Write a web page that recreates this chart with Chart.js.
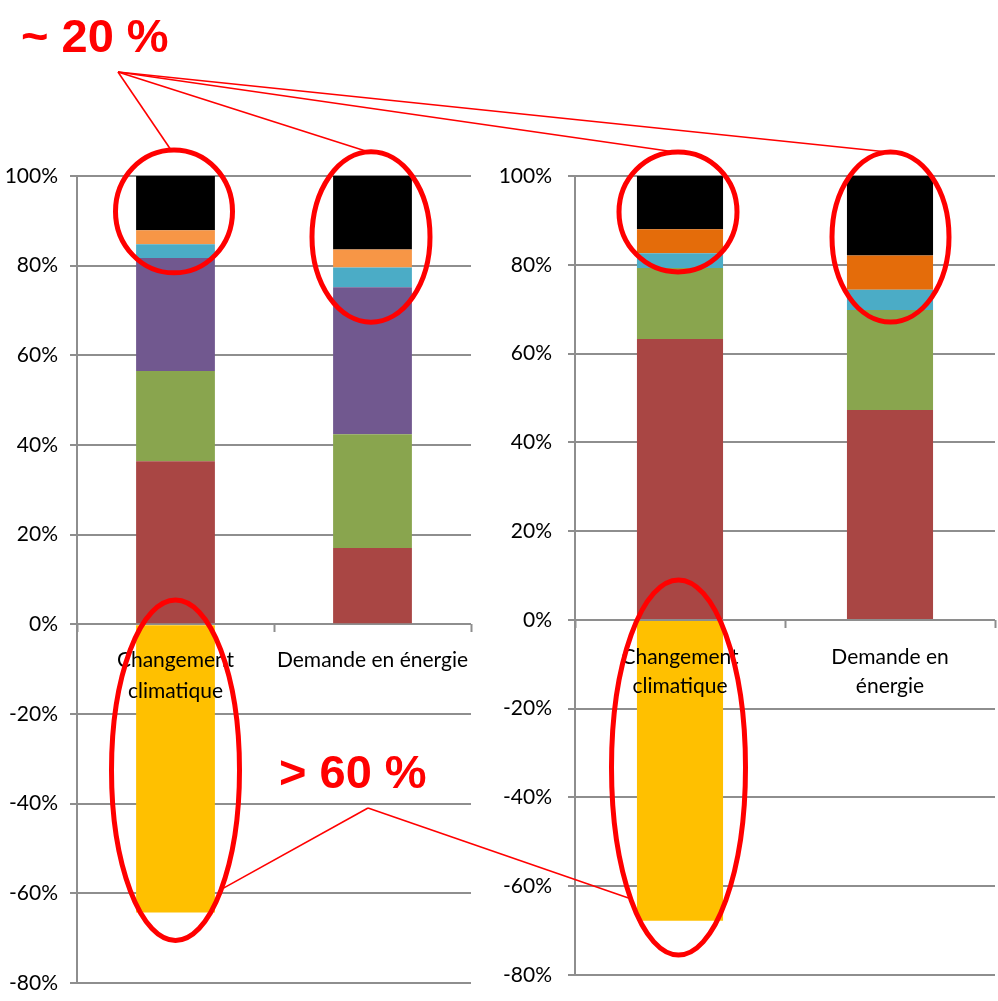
<!DOCTYPE html>
<html lang="fr">

<head>
  <meta charset="UTF-8" />
  <title>Changement climatique / Demande en énergie</title>
  <script src="https://cdn.jsdelivr.net/npm/chart.js"></script>
  <style>
    body {
      margin: 0;
      background: #ffffff;
    }

    .page {
      position: relative;
      width: 998px;
      height: 1001px;
      overflow: hidden;
    }

    #graphiqueGauche {
      position: absolute;
      left: 0;
      top: 0;
    }

    #graphiqueDroite {
      position: absolute;
      left: 490px;
      top: 0;
    }

    #annotations {
      position: absolute;
      left: 0;
      top: 0;
      pointer-events: none;
    }
  </style>
</head>

<body>
  <div class="page">
    <canvas id="graphiqueGauche" width="490" height="1001"></canvas>
    <canvas id="graphiqueDroite" width="508" height="1001"></canvas>
    <canvas id="annotations" width="998" height="1001"></canvas>
  </div>

  <script>
    // catégories et graduations
    const categoriesGauche = [['Changement', 'climatique'], 'Demande en énergie'];
    const categoriesDroite = [['Changement', 'climatique'], ['Demande en', 'énergie']];
    const graduationsY = [-80, -60, -40, -20, 0, 20, 40, 60, 80, 100];

    // graphique de gauche (valeurs en %)
    const rougeGauche = [36.4, 17.0];
    const vertGauche = [20.1, 25.4];
    const violetGauche = [25.2, 32.8];
    const bleuGauche = [3.1, 4.4];
    const orangeGauche = [3.1, 4.0];
    const noirGauche = [12.1, 16.4];
    const jauneGauche = [-64.3, 0];

    // graphique de droite (valeurs en %)
    const rougeDroite = [63.3, 47.3];
    const vertDroite = [16.0, 22.5];
    const bleuDroite = [3.3, 4.6];
    const orangeDroite = [5.4, 7.7];
    const noirDroite = [12.0, 17.9];
    const jauneDroite = [-67.8, 0];

    const couleurGrille = '#8e8e8e';
    const policeAxes = 'Lato, "Liberation Sans", Arial, sans-serif';

    function serie(nom, valeurs, couleur) {
      return {
        label: nom,
        data: valeurs,
        backgroundColor: couleur,
        borderWidth: 0,
        stack: 'pile'
      };
    }

    function creerGraphique(idCanvas, categories, series, reglages) {
      const config = {
        type: 'bar',
        data: {
          labels: categories,
          datasets: series
        },
        options: {
          responsive: false,
          animation: false,
          barPercentage: reglages.largeurBarre,
          categoryPercentage: 1,
          layout: {
            padding: {
              left: 0,
              right: reglages.margeDroite,
              top: 176,
              bottom: reglages.margeBas
            }
          },
          plugins: {
            legend: { display: false },
            tooltip: { enabled: false },
            title: { display: false }
          },
          scales: {
            x: {
              stacked: true,
              position: { y: 0 },
              offset: true,
              afterFit: function (axe) {
                axe.height = 0;
                axe.paddingLeft = 0;
                axe.paddingRight = 0;
              },
              grid: {
                drawOnChartArea: false,
                drawTicks: true,
                tickLength: 8,
                tickColor: couleurGrille,
                tickWidth: 2,
                offset: true
              },
              border: { display: false },
              ticks: {
                z: 1, // les libellés passent devant la barre jaune
                color: '#000000',
                padding: reglages.espaceCategories,
                maxRotation: 0,
                autoSkip: false,
                font: { family: policeAxes, size: 21, lineHeight: reglages.interligne }
              }
            },
            y: {
              stacked: true,
              min: -80,
              max: 100,
              afterFit: function (axe) {
                axe.width = reglages.largeurAxeY;
                axe.paddingTop = 0;
                axe.paddingBottom = 0;
              },
              afterBuildTicks: function (axe) {
                axe.ticks = graduationsY.map(v => ({ value: v }));
              },
              grid: {
                color: couleurGrille,
                lineWidth: 2,
                drawTicks: true,
                tickLength: 7,
                tickColor: couleurGrille
              },
              border: { color: couleurGrille, width: 2 },
              ticks: {
                color: '#000000',
                padding: reglages.espaceGraduations,
                font: { family: policeAxes, size: 21 },
                callback: function (valeur) {
                  return valeur + '%';
                }
              }
            }
          }
        }
      };

      const ctx = document.getElementById(idCanvas).getContext('2d');
      return new Chart(ctx, config);
    }

    const graphiqueGauche = creerGraphique('graphiqueGauche', categoriesGauche, [
      serie('Série 1', rougeGauche, '#A94644'),
      serie('Série 2', vertGauche, '#89A54E'),
      serie('Série 3', violetGauche, '#71588F'),
      serie('Série 4', bleuGauche, '#4BACC6'),
      serie('Série 5', orangeGauche, '#F79646'),
      serie('Série 6', noirGauche, '#000000'),
      serie('Série 7', jauneGauche, '#FFC000')
    ], {
      largeurBarre: 0.4,
      margeDroite: 19,
      margeBas: 18,
      largeurAxeY: 77,
      espaceGraduations: 12,
      espaceCategories: 13,
      interligne: 1.45
    });

    const graphiqueDroite = creerGraphique('graphiqueDroite', categoriesDroite, [
      serie('Série 1', rougeDroite, '#A94644'),
      serie('Série 2', vertDroite, '#89A54E'),
      serie('Série 4', bleuDroite, '#4BACC6'),
      serie('Série 5', orangeDroite, '#E46C0A'),
      serie('Série 6', noirDroite, '#000000'),
      serie('Série 7', jauneDroite, '#FFC000')
    ], {
      largeurBarre: 0.41,
      margeDroite: 3,
      margeBas: 26,
      largeurAxeY: 85,
      espaceGraduations: 16,
      espaceCategories: 15,
      interligne: 1.38
    });

    // bulles rouges autour des barres (bornes en % de l'axe, rayon horizontal en px)
    const bullesHaut = [
      { graphique: graphiqueGauche, decalage: 0, barre: 0, haut: 105.8, bas: 78.4, rx: 58.5, dx: -1.5 },
      { graphique: graphiqueGauche, decalage: 0, barre: 1, haut: 105.4, bas: 67.4, rx: 59, dx: -1.5 },
      { graphique: graphiqueDroite, decalage: 490, barre: 0, haut: 105.4, bas: 78.4, rx: 59, dx: -2 },
      { graphique: graphiqueDroite, decalage: 490, barre: 1, haut: 105.4, bas: 67.1, rx: 58.5, dx: 0.5 }
    ];
    const bullesBas = [
      { graphique: graphiqueGauche, decalage: 0, barre: 0, haut: 5.4, bas: -70.5, rx: 64, dx: 0, cote: 1 },
      { graphique: graphiqueDroite, decalage: 490, barre: 0, haut: 9.0, bas: -75.5, rx: 67, dx: -1.5, cote: -1 }
    ];

    function geometrieBulle(bulle) {
      const barre = bulle.graphique.getDatasetMeta(0).data[bulle.barre];
      const echelleY = bulle.graphique.scales.y;
      const yHaut = echelleY.getPixelForValue(bulle.haut);
      const yBas = echelleY.getPixelForValue(bulle.bas);
      return {
        cx: bulle.decalage + barre.x + bulle.dx,
        cy: (yHaut + yBas) / 2,
        rx: bulle.rx,
        ry: (yBas - yHaut) / 2
      };
    }

    function dessinerAnnotations() {
      const ctx = document.getElementById('annotations').getContext('2d');
      ctx.strokeStyle = '#FF0000';
      ctx.fillStyle = '#FF0000';

      // ~ 20 %
      const sommetHaut = { x: 118, y: 72 };
      ctx.lineWidth = 1.6;
      bullesHaut.forEach(bulle => {
        const g = geometrieBulle(bulle);
        ctx.beginPath();
        ctx.moveTo(sommetHaut.x, sommetHaut.y);
        ctx.lineTo(g.cx - 3, g.cy - g.ry);
        ctx.stroke();
      });

      // > 60 %
      const sommetBas = { x: 368, y: 808 };
      bullesBas.forEach(bulle => {
        const g = geometrieBulle(bulle);
        const t = 0.7;
        ctx.beginPath();
        ctx.moveTo(sommetBas.x, sommetBas.y);
        ctx.lineTo(g.cx + bulle.cote * g.rx * Math.sqrt(1 - t * t), g.cy + g.ry * t);
        ctx.stroke();
      });

      ctx.lineWidth = 5;
      bullesHaut.concat(bullesBas).forEach(bulle => {
        const g = geometrieBulle(bulle);
        ctx.beginPath();
        ctx.ellipse(g.cx, g.cy, g.rx, g.ry, 0, 0, Math.PI * 2);
        ctx.stroke();
      });

      ctx.font = 'bold 47px "Liberation Sans", Arial, sans-serif';
      ctx.textAlign = 'left';
      ctx.textBaseline = 'alphabetic';
      ctx.fillText('~ 20 %', 21, 52);
      ctx.fillText('> 60 %', 279, 788);
    }

    dessinerAnnotations();
  </script>
</body>

</html>
